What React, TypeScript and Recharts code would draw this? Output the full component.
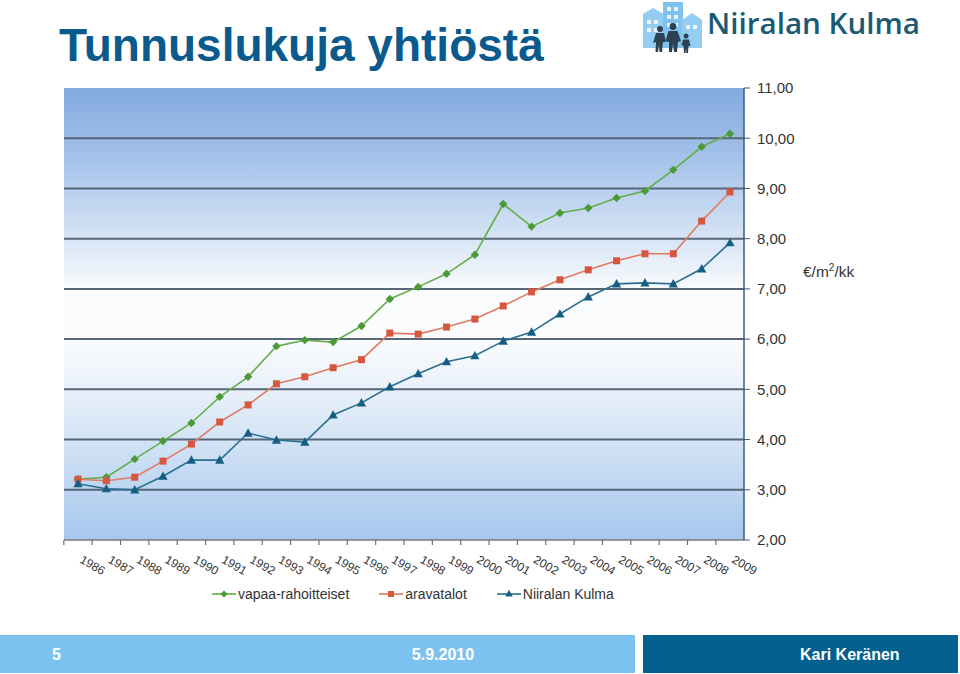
import React from "react";
import { LineChart, Line, XAxis, YAxis, CartesianGrid, Legend } from "recharts";

// rent levels, €/m²/kk
const years = [
  "1986", "1987", "1988", "1989", "1990", "1991", "1992", "1993", "1994", "1995", "1996", "1997",
  "1998", "1999", "2000", "2001", "2002", "2003", "2004", "2005", "2006", "2007", "2008", "2009",
];
const vapaaRahoitteiset = [
  3.21, 3.25, 3.61, 3.97, 4.33, 4.85, 5.25, 5.86, 5.98, 5.94, 6.26, 6.8,
  7.04, 7.3, 7.68, 8.69, 8.24, 8.51, 8.61, 8.81, 8.95, 9.37, 9.83, 10.09,
];
const aravatalot = [
  3.21, 3.18, 3.25, 3.57, 3.91, 4.35, 4.69, 5.11, 5.25, 5.43, 5.59, 6.12,
  6.1, 6.24, 6.4, 6.66, 6.94, 7.18, 7.38, 7.56, 7.7, 7.7, 8.35, 8.93,
];
const niiralanKulma = [
  3.12, 3.02, 3.0, 3.27, 3.59, 3.59, 4.13, 3.99, 3.95, 4.49, 4.73, 5.05,
  5.31, 5.55, 5.67, 5.96, 6.14, 6.5, 6.84, 7.1, 7.12, 7.1, 7.4, 7.92,
];
const seriesNames = ["vapaa-rahoitteiset", "aravatalot", "Niiralan Kulma"];
const yTicks = [2, 3, 4, 5, 6, 7, 8, 9, 10, 11];
const gridValues = [3, 4, 5, 6, 7, 8, 9, 10];

const data = years.map((year, i) => ({
  year,
  vapaa: vapaaRahoitteiset[i],
  arava: aravatalot[i],
  niirala: niiralanKulma[i],
}));

const FONT = '"Liberation Sans", Arial, sans-serif';
const GREEN = "#62ae48";
const GREEN_DOT = "#4b9a37";
const RED = "#e27a60";
const RED_DOT = "#d4573e";
const BLUE = "#2b6f90";
const BLUE_DOT = "#165f82";

const Diamond = (props: any) => {
  const { cx, cy, index } = props;
  if (cx == null || cy == null) return <g key={`g-${index}`} />;
  return (
    <path
      key={`g-${index}`}
      d={`M${cx},${cy - 4.2}L${cx + 4.2},${cy}L${cx},${cy + 4.2}L${cx - 4.2},${cy}Z`}
      fill={GREEN_DOT}
    />
  );
};

const Square = (props: any) => {
  const { cx, cy, index } = props;
  if (cx == null || cy == null) return <g key={`r-${index}`} />;
  return <rect key={`r-${index}`} x={cx - 3.5} y={cy - 3.5} width={7} height={7} fill={RED_DOT} />;
};

const Triangle = (props: any) => {
  const { cx, cy, index } = props;
  if (cx == null || cy == null) return <g key={`b-${index}`} />;
  return (
    <path
      key={`b-${index}`}
      d={`M${cx},${cy - 4.8}L${cx + 4.6},${cy + 3.6}L${cx - 4.6},${cy + 3.6}Z`}
      fill={BLUE_DOT}
    />
  );
};

const YearTick = (props: any) => {
  const { x, y, payload, width, visibleTicksCount } = props;
  const half = width && visibleTicksCount ? width / visibleTicksCount / 2 : 14;
  const tx = x + 1;
  const ty = y + 22;
  return (
    <g>
      <line x1={x - half} y1={y} x2={x - half} y2={y + 5} stroke="#6f6f6f" strokeWidth={1.2} />
      <text
        x={tx}
        y={ty}
        transform={`rotate(30, ${tx}, ${ty})`}
        fontSize={12}
        fontFamily={FONT}
        fill="#333"
        textAnchor="start"
      >
        {payload.value}
      </text>
    </g>
  );
};

const markerFor = (i: number, color: string) => {
  if (i === 0) return <path d="M12,2.5L15.5,6L12,9.5L8.5,6Z" fill={color} />;
  if (i === 1) return <rect x={9} y={3} width={6} height={6} fill={color} />;
  return <path d="M12,1.8L15.8,8.6L8.2,8.6Z" fill={color} />;
};

const renderLegend = () => {
  const dots = [GREEN_DOT, RED_DOT, BLUE_DOT];
  const lines = [GREEN, RED, BLUE];
  return (
    <div style={{ display: "flex", alignItems: "center", fontFamily: FONT, fontSize: 14, color: "#333" }}>
      {seriesNames.map((name, i) => (
        <div key={name} style={{ display: "flex", alignItems: "center", marginRight: 30 }}>
          <svg width={24} height={12} style={{ marginRight: 2 }}>
            <line x1={0} y1={6} x2={24} y2={6} stroke={lines[i]} strokeWidth={1.6} />
            {markerFor(i, dots[i])}
          </svg>
          <span>{name}</span>
        </div>
      ))}
    </div>
  );
};

const Logo = () => (
  <g>
    <rect x={643} y={14} width={21} height={34} fill="#93cdf1" />
    <path d="M643,14 L653,8 L664,14 Z" fill="#93cdf1" />
    <rect x={663} y={2} width={20} height={46} fill="#7fc2ee" />
    <rect x={682} y={20} width={20} height={28} fill="#93cdf1" />
    <path d="M682,20 L692,13 L702,20 Z" fill="#93cdf1" />
    {[0, 1].map((r) =>
      [0, 1].map((c) => (
        <rect key={`w1-${r}-${c}`} x={647 + c * 7} y={20 + r * 8} width={4} height={4} fill="#e9f5fd" />
      ))
    )}
    {[0, 1, 2].map((r) =>
      [0, 1].map((c) => (
        <rect key={`w2-${r}-${c}`} x={667 + c * 7} y={7 + r * 8} width={4} height={4} fill="#e9f5fd" />
      ))
    )}
    {[0, 1].map((c) => (
      <rect key={`w3-${c}`} x={686 + c * 7} y={25} width={4} height={4} fill="#e9f5fd" />
    ))}
    <g fill="#2c4254">
      <circle cx={660} cy={29} r={3} />
      <path d="M656,33 L664,33 L666,42 L663,42 L662,52 L659.5,52 L659,45 L658,52 L655.5,52 L656,42 L653,43 Z" />
      <circle cx={673} cy={26.5} r={3.4} />
      <path d="M668.5,31 L677.5,31 L681,41 L678,42 L677,52 L674,52 L673,44 L672,52 L669,52 L669,42 L665.5,41 Z" />
      <circle cx={686} cy={36} r={2.5} />
      <path d="M683,39.5 L689,39.5 L690.5,46 L688.5,46 L688,53 L686.3,53 L686,48 L685.5,53 L684,53 L683.5,46 L681.5,45 Z" />
    </g>
    <text
      x={707}
      y={34}
      fontSize={29}
      fontWeight={600}
      fontFamily='"Open Sans", "Noto Sans", sans-serif'
      fill="#1a5a73"
      textLength={213}
      lengthAdjust="spacingAndGlyphs"
    >
      Niiralan Kulma
    </text>
  </g>
);

export default function App() {
  return (
    <div style={{ position: "absolute", left: 0, top: 0, width: 960, height: 674, background: "#fff", overflow: "hidden" }}>
      <svg width={960} height={674} style={{ position: "absolute", left: 0, top: 0 }}>
        <text x={59} y={61} fontSize={46} fontWeight="bold" fontFamily={FONT} fill="#0b5a8d">
          Tunnuslukuja yhtiöstä
        </text>
        <Logo />
        <rect x={0} y={635} width={635} height={38} fill="#7cc2f1" />
        <rect x={643} y={635} width={315} height={38} fill="#03608f" />
        <text x={52} y={660} fontSize={16} fontWeight="bold" fontFamily={FONT} fill="#fff">5</text>
        <text x={443} y={660} fontSize={16} fontWeight="bold" fontFamily={FONT} fill="#fff" textAnchor="middle">5.9.2010</text>
        <text x={800} y={660} fontSize={16} fontWeight="bold" fontFamily={FONT} fill="#fff">Kari Keränen</text>
        <text x={803} y={277} fontSize={15.5} fontFamily={FONT} fill="#333">
          €/m<tspan fontSize={10} dy={-6}>2</tspan><tspan dy={6}>/kk</tspan>
        </text>
      </svg>
      <div style={{ position: "absolute", left: 0, top: 0 }}>
        <LineChart width={960} height={620} data={data} margin={{ top: 88, right: 156, bottom: 40, left: 64 }}>
          <defs>
            <linearGradient id="plotBg" x1="0" y1="0" x2="0" y2="1">
              <stop offset="0%" stopColor="#84aadf" />
              <stop offset="15%" stopColor="#a3c1e9" />
              <stop offset="32%" stopColor="#d3e2f4" />
              <stop offset="45%" stopColor="#fbfcfe" />
              <stop offset="56%" stopColor="#fafcfe" />
              <stop offset="68%" stopColor="#e6eff9" />
              <stop offset="82%" stopColor="#cbdef4" />
              <stop offset="100%" stopColor="#a6c7ee" />
            </linearGradient>
          </defs>
          <CartesianGrid
            fill="url(#plotBg)"
            fillOpacity={1}
            vertical={false}
            horizontalValues={gridValues}
            stroke="#56677a"
            strokeWidth={2}
          />
          <XAxis
            dataKey="year"
            interval={0}
            padding={{ left: 14, right: 14 }}
            tickLine={false}
            tickSize={0}
            tickMargin={0}
            height={40}
            axisLine={{ stroke: "#7a7a7a", strokeWidth: 1.5 }}
            tick={<YearTick />}
          />
          <YAxis
            orientation="right"
            domain={[2, 11]}
            ticks={yTicks}
            interval={0}
            allowDataOverflow
            width={60}
            tickSize={6}
            tickMargin={7}
            tickFormatter={(v: number) => v.toFixed(2).replace(".", ",")}
            tick={{ fill: "#333", fontSize: 15, fontFamily: FONT }}
            axisLine={{ stroke: "#3f5b78", strokeWidth: 1.5 }}
            tickLine={{ stroke: "#3f5b78" }}
          />
          <Legend
            layout="horizontal"
            verticalAlign="middle"
            align="center"
            content={renderLegend}
            wrapperStyle={{ top: 586, left: 212, width: 480, height: 18 }}
          />
          <Line
            type="linear"
            dataKey="vapaa"
            name={seriesNames[0]}
            stroke={GREEN}
            strokeWidth={1.6}
            dot={Diamond}
            activeDot={false}
            isAnimationActive={false}
          />
          <Line
            type="linear"
            dataKey="arava"
            name={seriesNames[1]}
            stroke={RED}
            strokeWidth={1.6}
            dot={Square}
            activeDot={false}
            isAnimationActive={false}
          />
          <Line
            type="linear"
            dataKey="niirala"
            name={seriesNames[2]}
            stroke={BLUE}
            strokeWidth={1.6}
            dot={Triangle}
            activeDot={false}
            isAnimationActive={false}
          />
        </LineChart>
      </div>
    </div>
  );
}
